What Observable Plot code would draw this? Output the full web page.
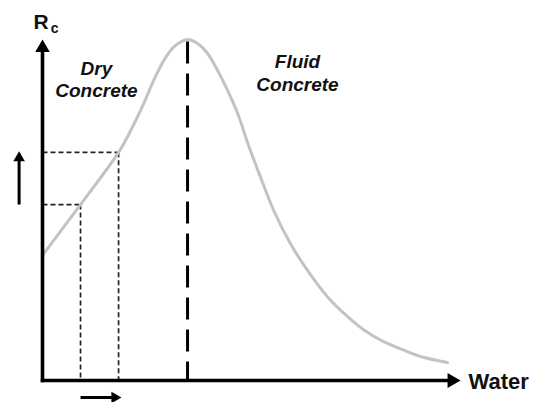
<!DOCTYPE html>
<html>
<head>
<meta charset="utf-8">
<script src="https://cdn.jsdelivr.net/npm/d3@7"></script>
<script src="https://cdn.jsdelivr.net/npm/@observablehq/plot@0.6"></script>
<style>
  html, body { margin: 0; padding: 0; background: #fff; }
  svg { display: block; }
</style>
</head>
<body>
<div id="chart"></div>
<script>
// Strength curve Rc vs Water (arbitrary units)
const curveX = [0, 9.1, 18.2, 21.1, 24.2, 26.6, 29.0, 31.3, 33.7, 34.9, 37.1, 39.5, 41.9, 44.3, 46.7, 49.3, 52.2, 55.3, 59.3, 63.4, 68.2, 73.0, 76.8, 81.6, 86.4, 91.1, 96.9];
const curveY = [36.7, 51.6, 66.9, 73.3, 81.2, 88.0, 93.8, 97.7, 99.7, 100.0, 98.8, 95.9, 90.9, 85.0, 78.3, 68.9, 59.5, 49.9, 40.2, 32.3, 24.5, 18.7, 14.9, 11.4, 8.9, 6.8, 5.3];

// reference points on the linear (dry) branch
const refX = [9.1, 18.2];
const refY = [51.6, 66.9];

// optimum (peak)
const peakX = 34.7;
const peakY = 100;

// region labels
const labelText = ["Dry\nConcrete", "Fluid\nConcrete"];
const labelX = [12.9, 61.0];
const labelY = [88.5, 90.3];

// axis extents
const axisMax = 100;
const smallArrowX = -5.6;   // "increase" arrow left of the y axis
const smallArrowY = -5.0;   // "increase" arrow below the x axis

const curve = curveX.map((x, i) => ({x, y: curveY[i]}));
const refs = refX.map((x, i) => ({x, y: refY[i]}));
const labels = labelText.map((t, i) => ({t, x: labelX[i], y: labelY[i]}));

const font = "'Liberation Sans', Arial, Helvetica, sans-serif";

const chart = Plot.plot({
  width: 539,
  height: 402,
  marginLeft: 42,
  marginRight: 79,
  marginTop: 39,
  marginBottom: 22,
  x: {domain: [0, axisMax], axis: null},
  y: {domain: [0, axisMax], axis: null},
  style: {fontFamily: font, background: "#fff"},
  marks: [
    // thin dashed guide lines
    Plot.link(refs, {x1: 0, y1: "y", x2: "x", y2: "y", stroke: "#222", strokeWidth: 1.7, strokeDasharray: "5,3"}),
    Plot.link(refs, {x1: "x", y1: "y", x2: "x", y2: 0, stroke: "#222", strokeWidth: 1.7, strokeDasharray: "5,3"}),
    // peak dashed line
    Plot.link([{x: peakX, y: peakY}], {x1: "x", y1: "y", x2: "x", y2: 0, stroke: "#000", strokeWidth: 3, strokeDasharray: "22,10", strokeDashoffset: -2}),
    // curve
    Plot.line(curve, {x: "x", y: "y", curve: "catmull-rom", stroke: "#c3c3c3", strokeWidth: 3}),
    // axes
    Plot.link([{x1: 0, y1: 0, x2: 0, y2: axisMax - 3}], {x1: "x1", y1: "y1", x2: "x2", y2: "y2", stroke: "#000", strokeWidth: 3.6, strokeLinecap: "square"}),
    Plot.link([{x1: 0, y1: 0, x2: axisMax - 3, y2: 0}], {x1: "x1", y1: "y1", x2: "x2", y2: "y2", stroke: "#000", strokeWidth: 3.6, strokeLinecap: "square"}),
    Plot.dot([{x: 0, y: axisMax}], {x: "x", y: "y", symbol: "triangle", r: 5.4, fill: "#000", stroke: null, dy: 8.4}),
    Plot.dot([{x: axisMax, y: 0}], {x: "x", y: "y", symbol: "triangle", r: 5.6, fill: "#000", stroke: null, rotate: 90, dx: -8.6}),
    // small arrows
    Plot.link([{x: smallArrowX}], {x1: "x", x2: "x", y1: () => refY[0], y2: () => refY[1] - 1.5, stroke: "#000", strokeWidth: 3}),
    Plot.dot([{x: smallArrowX, y: refY[1]}], {x: "x", y: "y", symbol: "triangle", r: 4.3, fill: "#000", stroke: null, dy: 5.5}),
    Plot.link([{y: smallArrowY}], {y1: "y", y2: "y", x1: () => refX[0], x2: () => refX[1] - 0.8, stroke: "#000", strokeWidth: 3}),
    Plot.dot([{x: refX[1] + 0.4, y: smallArrowY}], {x: "x", y: "y", symbol: "triangle", r: 4.3, fill: "#000", stroke: null, rotate: 90, dx: -5.5}),
    // text
    Plot.text(labels, {x: "x", y: "y", text: "t", fontSize: 19, fontWeight: "bold", fontStyle: "italic", lineHeight: 1.2, textAnchor: "middle", fill: "#111"}),
    Plot.text(["R"], {x: -0.36, y: 105.2, text: d => d, fontSize: 21, fontWeight: "bold", textAnchor: "middle", fill: "#111"}),
    Plot.text(["c"], {x: 2.9, y: 103.1, text: d => d, fontSize: 14, fontWeight: "bold", textAnchor: "middle", fill: "#111"}),
    Plot.text(["Water"], {x: 101.9, y: -0.3, text: d => d, fontSize: 22, fontWeight: "bold", textAnchor: "start", fill: "#111"})
  ]
});
document.getElementById("chart").appendChild(chart);
</script>
</body>
</html>
